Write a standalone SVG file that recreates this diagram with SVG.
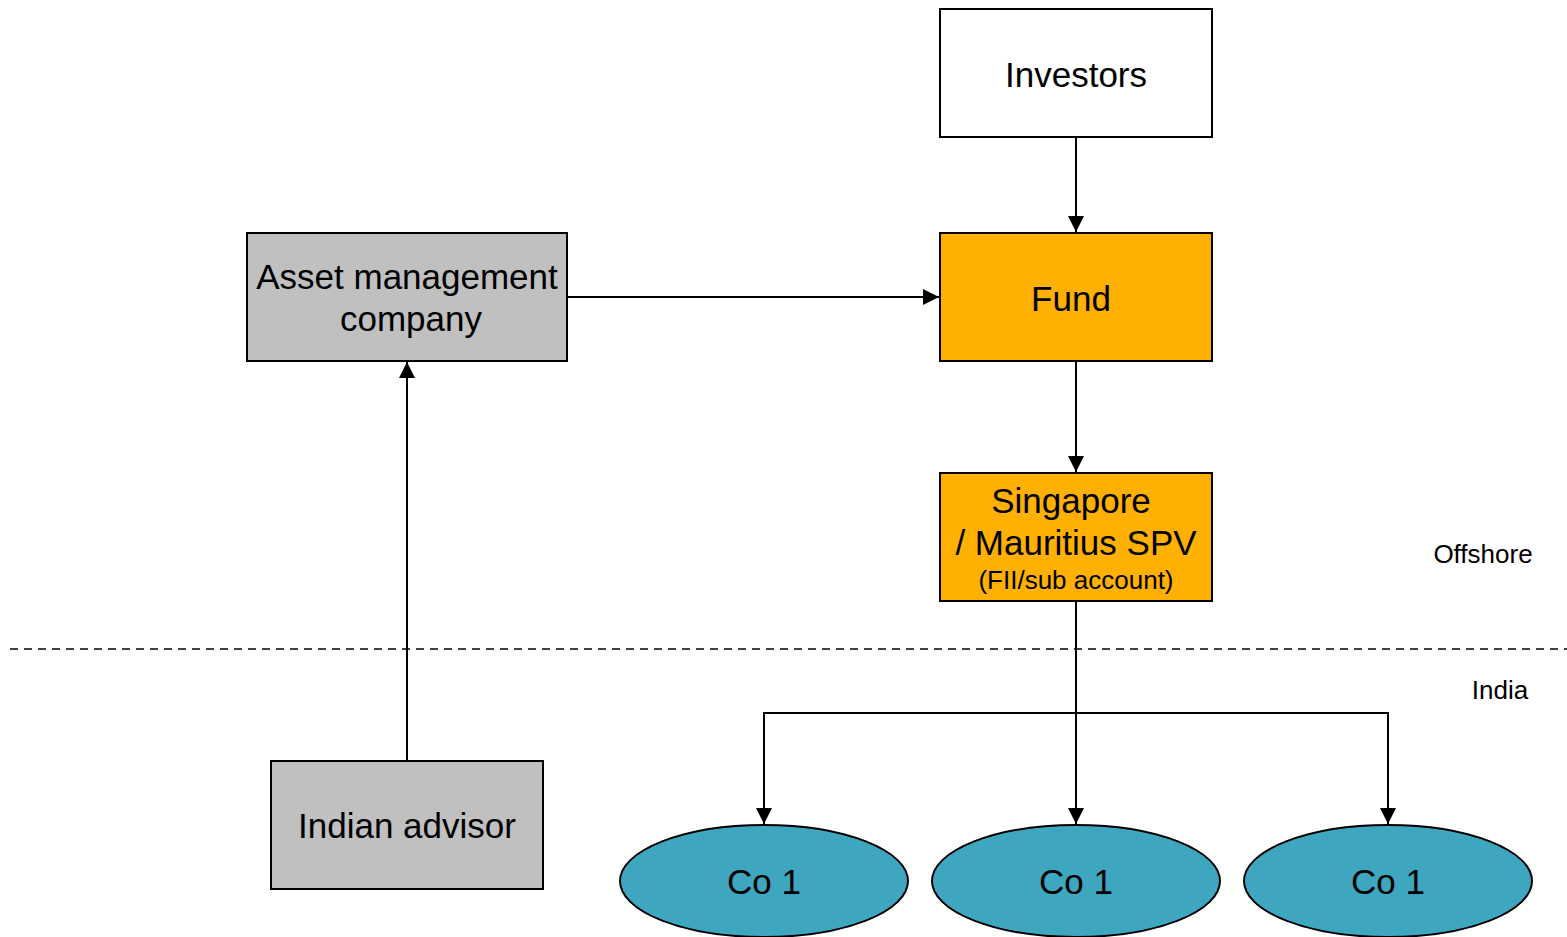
<svg xmlns="http://www.w3.org/2000/svg" width="1567" height="937" viewBox="0 0 1567 937">
<style>
.box{stroke:#000;stroke-width:2}
.t{font-family:"Liberation Sans",Arial,sans-serif;fill:#000;text-anchor:middle}
.c{stroke:#000;stroke-width:2;fill:none}
</style>
<defs>
<marker id="ah" viewBox="0 0 10 10" refX="10" refY="5" markerWidth="16" markerHeight="16" markerUnits="userSpaceOnUse" orient="auto">
<path d="M0,0 L10,5 L0,10 z" fill="#000"/>
</marker>
</defs>
<rect width="1567" height="937" fill="#fff"/>
<g id="connectors">
<line class="c" x1="1076" y1="137" x2="1076" y2="232" marker-end="url(#ah)"/>
<line class="c" x1="1076" y1="361" x2="1076" y2="472" marker-end="url(#ah)"/>
<line class="c" x1="567" y1="297" x2="939" y2="297" marker-end="url(#ah)"/>
<line class="c" x1="407" y1="761" x2="407" y2="362" marker-end="url(#ah)"/>
<line class="c" x1="1076" y1="601" x2="1076" y2="824" marker-end="url(#ah)"/>
<line class="c" x1="764" y1="713" x2="1388" y2="713" stroke-linecap="square"/>
<line class="c" x1="764" y1="713" x2="764" y2="824" marker-end="url(#ah)"/>
<line class="c" x1="1388" y1="713" x2="1388" y2="824" marker-end="url(#ah)"/>
<line x1="10" y1="649" x2="1567" y2="649" stroke="#000" stroke-width="1.5" stroke-dasharray="8,6"/>
</g>
<g id="investors">
<rect class="box" x="940" y="9" width="272" height="128" fill="#fff"/>
<text class="t" x="1076" y="87" font-size="35">Investors</text>
</g>
<g id="fund">
<rect class="box" x="940" y="233" width="272" height="128" fill="#FFB000"/>
<text class="t" x="1071" y="311" font-size="35">Fund</text>
</g>
<g id="spv">
<rect class="box" x="940" y="473" width="272" height="128" fill="#FFB000"/>
<text class="t" x="1071" y="513" font-size="35">Singapore</text>
<text class="t" x="1076" y="555" font-size="35">/ Mauritius SPV</text>
<text class="t" x="1076" y="589" font-size="26">(FII/sub account)</text>
</g>
<g id="amc">
<rect class="box" x="247" y="233" width="320" height="128" fill="#C0C0C0"/>
<text class="t" x="407" y="289" font-size="35">Asset management</text>
<text class="t" x="411" y="331" font-size="35">company</text>
</g>
<g id="advisor">
<rect class="box" x="271" y="761" width="272" height="128" fill="#C0C0C0"/>
<text class="t" x="407" y="838" font-size="35">Indian advisor</text>
</g>
<g id="co1a">
<ellipse class="box" cx="764" cy="881" rx="144" ry="56" fill="#3FA6C0"/>
<text class="t" x="764" y="894" font-size="35">Co 1</text>
</g>
<g id="co1b">
<ellipse class="box" cx="1076" cy="881" rx="144" ry="56" fill="#3FA6C0"/>
<text class="t" x="1076" y="894" font-size="35">Co 1</text>
</g>
<g id="co1c">
<ellipse class="box" cx="1388" cy="881" rx="144" ry="56" fill="#3FA6C0"/>
<text class="t" x="1388" y="894" font-size="35">Co 1</text>
</g>
<g id="labels">
<text class="t" x="1483" y="563" font-size="26">Offshore</text>
<text class="t" x="1500" y="699" font-size="26">India</text>
</g>
</svg>
